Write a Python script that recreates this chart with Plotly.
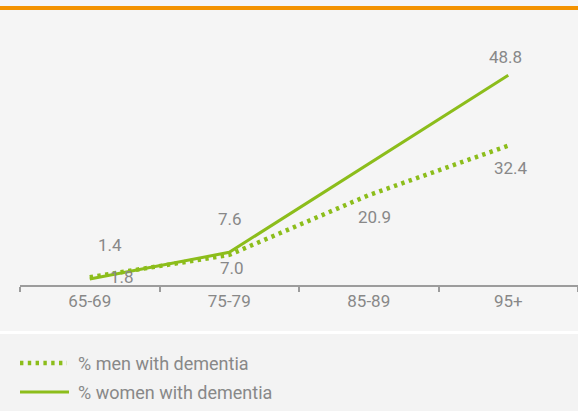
import plotly.graph_objects as go

# Dementia prevalence by age group (%)
age_groups = ["65-69", "75-79", "85-89", "95+"]
men_pct = [1.8, 7.0, 20.9, 32.4]
women_pct = [1.4, 7.6, None, 48.8]

men_labels = ["1.8", "7.0", "20.9", "32.4"]
women_labels = ["1.4", "7.6", "", "48.8"]

GREEN = "#8cbd1b"
GREY_TEXT = "#888888"
AXIS_GREY = "#9c9c9c"
W, H = 578, 411
M_L, M_R, M_T, M_B = 20, 0, 20, 126
PLOT_H = H - M_T - M_B
PLOT_W = W - M_L - M_R
DOTS = "3.4px,4.4px"


def px_x(px):
    return (px - M_L) / PLOT_W


def px_y(py):
    return (H - M_B - py) / PLOT_H


FONT = "Roboto, 'DejaVu Sans', sans-serif"

fig = go.Figure()
fig.add_trace(go.Scatter(
    x=age_groups, y=men_pct, mode="lines", name="% men with dementia",
    line=dict(color=GREEN, width=4.5, dash=DOTS), showlegend=False,
))
fig.add_trace(go.Scatter(
    x=age_groups, y=women_pct, mode="lines", name="% women with dementia",
    connectgaps=True, line=dict(color=GREEN, width=3), showlegend=False,
))

# value labels: women above the line, men below
women_shift = [(20, 34), (1, 33), (0, 0), (-3, 18)]
men_shift = [(32, 0), (3, -13), (6, -22), (3, -22)]
for cat, val, txt, (dx, dy) in zip(age_groups, women_pct, women_labels, women_shift):
    if val is None or not txt:
        continue
    fig.add_annotation(x=cat, y=val, text=txt, showarrow=False,
                       xshift=dx, yshift=dy,
                       font=dict(family=FONT, size=17, color=GREY_TEXT))
for cat, val, txt, (dx, dy) in zip(age_groups, men_pct, men_labels, men_shift):
    fig.add_annotation(x=cat, y=val, text=txt, showarrow=False,
                       xshift=dx, yshift=dy,
                       font=dict(family=FONT, size=17, color=GREY_TEXT))

shapes = [
    # orange rule across the top
    dict(type="rect", xref="paper", yref="paper", layer="below",
         x0=px_x(0), x1=px_x(W), y0=px_y(10), y1=px_y(6),
         fillcolor="#f39200", line=dict(width=0)),
    # white separator and legend panel
    dict(type="rect", xref="paper", yref="paper", layer="below",
         x0=px_x(0), x1=px_x(W), y0=px_y(H), y1=px_y(334),
         fillcolor="#f3f3f3", line=dict(width=0)),
    dict(type="rect", xref="paper", yref="paper", layer="below",
         x0=px_x(0), x1=px_x(W), y0=px_y(334), y1=px_y(331),
         fillcolor="#ffffff", line=dict(width=0)),
    # legend samples
    dict(type="line", xref="paper", yref="paper",
         x0=px_x(20), x1=px_x(67), y0=px_y(363), y1=px_y(363),
         line=dict(color=GREEN, width=4.5, dash=DOTS)),
    dict(type="line", xref="paper", yref="paper",
         x0=px_x(20), x1=px_x(69), y0=px_y(392), y1=px_y(392),
         line=dict(color=GREEN, width=3)),
]
for yy, name in [(363, "% men with dementia"), (392, "% women with dementia")]:
    fig.add_annotation(xref="paper", yref="paper", x=px_x(76), y=px_y(yy),
                       xanchor="left", yanchor="middle", text=name, showarrow=False,
                       font=dict(family=FONT, size=18, color=GREY_TEXT))

fig.update_layout(
    width=W, height=H,
    margin=dict(l=M_L, r=M_R, t=M_T, b=M_B),
    paper_bgcolor="#f5f5f5", plot_bgcolor="#f5f5f5",
    shapes=shapes, showlegend=False,
    xaxis=dict(type="category", range=[-0.5, 3.5], showgrid=False, zeroline=False,
               showline=True, linecolor=AXIS_GREY, linewidth=2,
               ticks="outside", tickson="boundaries", ticklen=5,
               tickcolor=AXIS_GREY, tickwidth=1.5,
               tickfont=dict(family=FONT, size=17, color=GREY_TEXT)),
    yaxis=dict(range=[0, PLOT_H / 4.3], visible=False, showgrid=False,
               zeroline=False, fixedrange=True),
)

fig.write_html("out.html")
